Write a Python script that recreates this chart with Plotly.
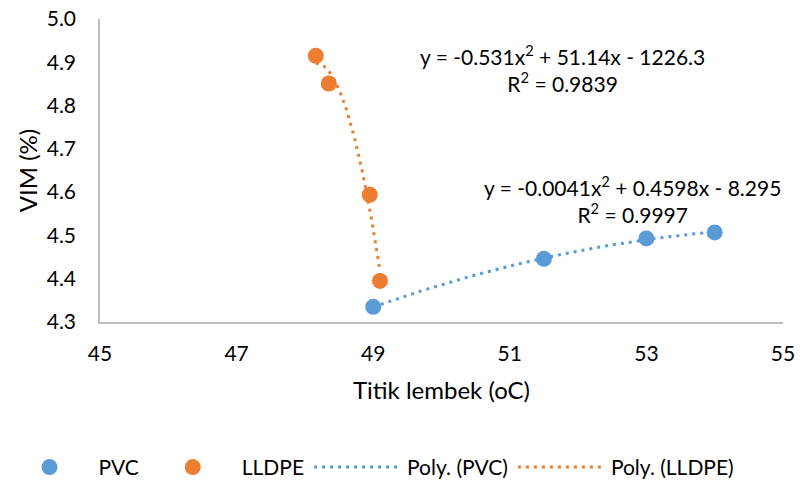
import numpy as np
import plotly.graph_objects as go

# Softening point (oC) vs VIM (%) for two modifiers
pvc_x = [49.0, 51.5, 53.0, 54.0]
pvc_y = [4.335, 4.446, 4.493, 4.507]
lldpe_x = [48.16, 48.35, 48.95, 49.10]
lldpe_y = [4.915, 4.851, 4.594, 4.395]

pvc_eq = "y = -0.0041x<sup>2</sup> + 0.4598x - 8.295<br>R<sup>2</sup> = 0.9997"
lldpe_eq = "y = -0.531x<sup>2</sup> + 51.14x - 1226.3<br>R<sup>2</sup> = 0.9839"

x_ticks = [45, 47, 49, 51, 53, 55]
y_ticks = [4.3, 4.4, 4.5, 4.6, 4.7, 4.8, 4.9, 5.0]

BLUE = "#5B9BD5"
ORANGE = "#ED7D31"
FONT = "Lato, Carlito, 'Open Sans', sans-serif"


def poly_trend(xs, ys, n=120):
    """Second-order least-squares trendline over the data range."""
    c = np.polyfit(xs, ys, 2)
    xx = np.linspace(min(xs), max(xs), n)
    return xx, np.polyval(c, xx)


fig = go.Figure()

tx, ty = poly_trend(pvc_x, pvc_y)
fig.add_trace(go.Scatter(x=tx, y=ty, mode="lines", name="Poly. (PVC)",
                         line=dict(color=BLUE, width=3, dash="3px,5px"),
                         legendrank=3))
tx, ty = poly_trend(lldpe_x, lldpe_y)
fig.add_trace(go.Scatter(x=tx, y=ty, mode="lines", name="Poly. (LLDPE)",
                         line=dict(color=ORANGE, width=3, dash="3px,5px"),
                         legendrank=4))

fig.add_trace(go.Scatter(x=pvc_x, y=pvc_y, mode="markers", name="PVC",
                         marker=dict(color=BLUE, size=16), legendrank=1))
fig.add_trace(go.Scatter(x=lldpe_x, y=lldpe_y, mode="markers", name="LLDPE",
                         marker=dict(color=ORANGE, size=16), legendrank=2))

fig.add_annotation(x=51.77, y=4.886, xref="x", yref="y", text=lldpe_eq,
                   showarrow=False, align="center",
                   font=dict(family=FONT, size=21, color="#000"))
fig.add_annotation(x=52.8, y=4.584, xref="x", yref="y", text=pvc_eq,
                   showarrow=False, align="center",
                   font=dict(family=FONT, size=21, color="#000"))

axis_common = dict(showgrid=False, zeroline=False, showline=True,
                   linecolor="#BFBFBF", linewidth=1.5,
                   ticks="outside", tickcolor="rgba(0,0,0,0)",
                   tickfont=dict(family=FONT, size=21, color="#000"))

fig.update_xaxes(range=[45, 55], tickvals=x_ticks, ticklen=12,
                 title=dict(text="Titik lembek (oC)", standoff=18,
                            font=dict(family=FONT, size=24, color="#000")),
                 **axis_common)
fig.update_yaxes(range=[4.3, 5.0], tickvals=y_ticks, tickformat=".1f", ticklen=18,
                 title=dict(text="VIM (%)", standoff=2,
                            font=dict(family=FONT, size=24, color="#000")),
                 **axis_common)

fig.update_layout(
    width=800, height=488,
    margin=dict(l=100, r=17, t=19, b=166, autoexpand=False),
    paper_bgcolor="white", plot_bgcolor="white",
    font=dict(family=FONT, size=21, color="#000"),
    legend=dict(orientation="h", xref="paper", yref="paper",
                x=-0.1457, xanchor="left", y=-0.48, yanchor="middle",
                font=dict(family=FONT, size=21, color="#000"),
                itemwidth=88),
)

fig.write_html("out.html")
